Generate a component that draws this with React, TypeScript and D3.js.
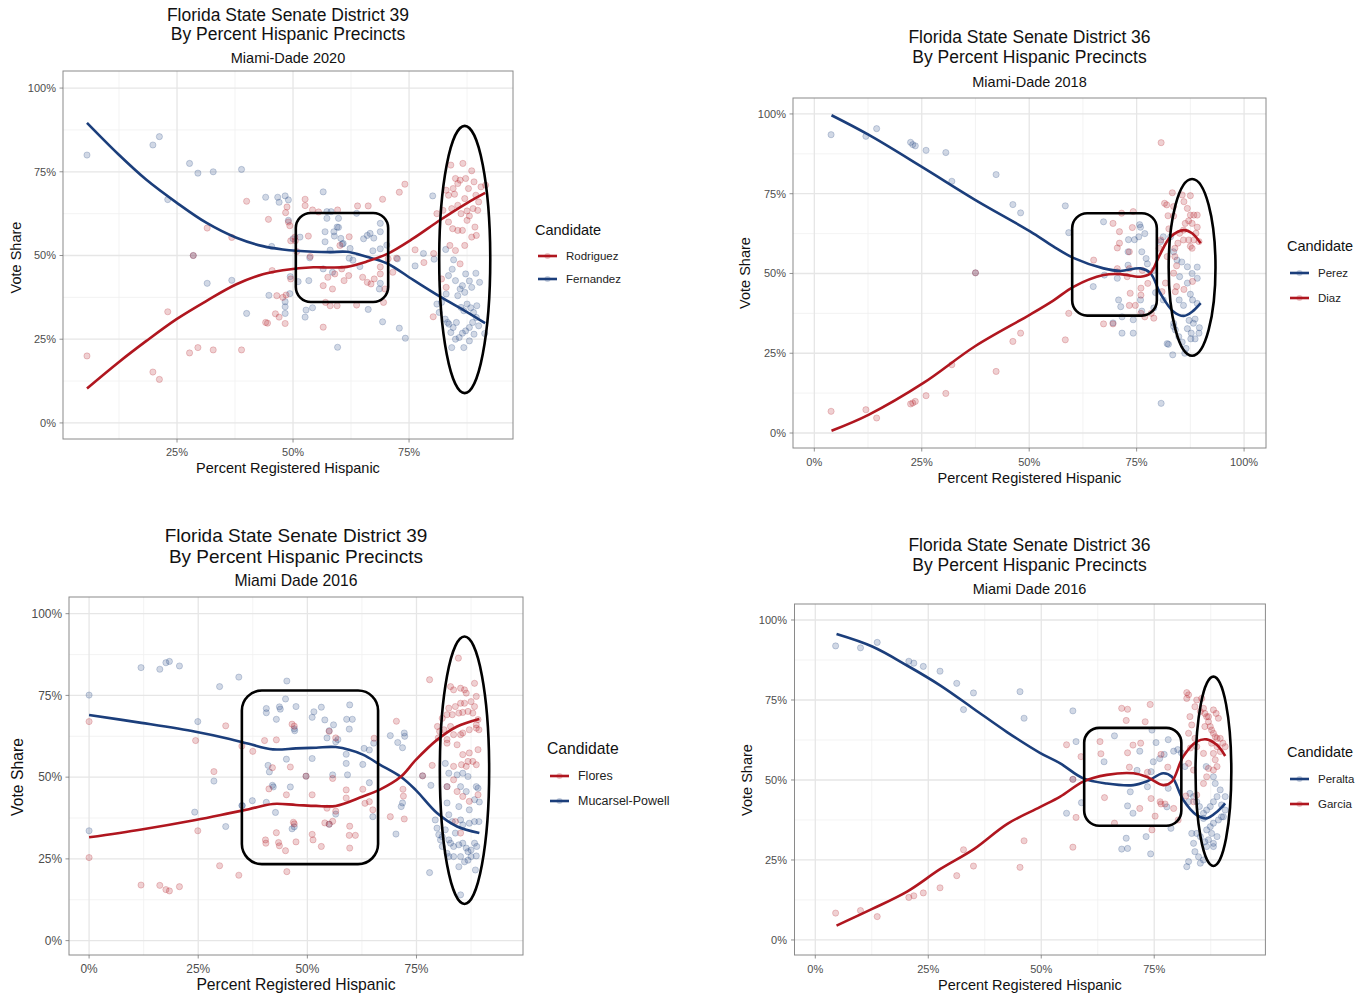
import React from 'react';
import * as d3 from 'd3';

type Pt = [number, number];

const BLUE = '#1b3e7b';
const RED = '#b0161f';
const FONT = '"Liberation Sans", Arial, Helvetica, sans-serif';

// ---------------- Panel 1: District 39, Miami-Dade 2020 ----------------
const p1XTicks = [25, 50, 75];
const p1XMinor = [12.5, 37.5, 62.5, 87.5];
const yTicks = [0, 25, 50, 75, 100];
const yMinor = [12.5, 37.5, 62.5, 87.5];
const p1Candidates = ['Rodriguez', 'Fernandez'];
const p1Blue: Pt[] = [
  [5.6,80],[19.8,83],[21.2,85.5],[23,66.7],[27.7,77.5],[29.5,74.6],[32.8,75],[38.9,75.7],[28.5,50],[31.5,41.7],[36.8,42.6],[40,32.7],
  [44.1,67.4],[46.7,67.4],[48.3,67.8],[47,65.9],[49,66.6],[45.4,52.7],[44.8,38.1],[48.3,36.2],[48.3,34.7],[48.3,32.7],[49.3,38.6],[49.4,43.7],[49,60.5],[50,55],
  [52.6,31.6],[52.8,33.7],[54.2,34.4],[53.4,42.5],[51.1,42.2],[53.6,49.3],[51.5,55.5],
  [56.5,69],[57.3,63.1],[58.2,63.1],[59.8,61.1],[57.3,61.1],[56.9,57.1],[58.8,57.1],[59.8,58.4],[60.3,55.1],[58.9,55.8],[60.8,53.6],[56.9,54.1],[58,51.6],[62.3,52.1],[63.7,62.6],[65.2,55],[66,56],[66.6,56.6],[67.4,55.2],[68.8,59.6],[68.8,57.1],[70.2,53.1],[68.8,52],[67.2,51.4],[64.4,46.7],[62.9,48.6],[68.8,41.7],[68.6,40],[62.1,49.2],[60.6,53.4],[59.5,58.5],[56.5,46],[58.5,45],
  [69.3,30.2],[72.9,28.3],[74.2,25.3],[59.6,22.6],[66.2,33.9],[72.5,49],
  [76.3,46.9],[78.1,50.6],[80.4,48.9],[80.1,67.8],[82.9,51.8],[84.6,48.7],[84.3,45.9],[83.5,44],[85,42.5],[86.5,41],[87.2,44.5],[88.5,40.5],[89.4,44.7],[88,42.4],[86,40],[85.5,38],[83,38.5],[82,36],[81.5,33],[82.8,31],[83.6,29.5],[84.5,28.5],[85.2,30],[86.2,34.5],[86.8,33.5],[87.5,35.5],[88.3,34.4],[88.9,33],[89.5,31.5],[88.7,30],[88,28.5],[87.2,27.5],[86.5,26.8],[85.8,25.5],[85,25],[84.2,22.5],[86.8,22.5],[88,24.5],[89,26.5],[90,29],[91.3,26.7],[89.6,35],[87,39],[83.3,30],[84,27],[81,35.5],[90.2,42]
];
const p1Red: Pt[] = [
  [5.6,20],[19.8,15.2],[21.2,13],[23,33.2],[27.7,20.9],[29.5,22.5],[32.8,21.8],[38.9,21.8],[31.5,58.2],[36.8,55.4],[40,66.2],[28.5,50],
  [44.1,30],[44.7,60.8],[48.4,62.8],[48.7,64.5],[49,60],[49.3,58.9],[49.5,54.4],[50.5,54.4],[50.8,51.2],[46.5,38],[47.8,37.5],[48.5,38.2],[46.2,32.6],[47,31.6],[48.3,29.7],[45.5,45.5],[44.5,29.8],[49.5,43],
  [52.6,66.8],[52.6,64.9],[54.2,63.6],[53.3,55.8],[50.4,55.5],[53.7,49.7],[55.5,63],[57.5,43.5],[56.5,41],[58.5,40],[57,36],[58,35],[59.5,35],[56.5,28.6],[59.6,63.6],[60.1,53],[62.1,55.6],[59,44.5],[60.5,46],[61,42.5],[63.7,35.2],[62,44],
  [63.9,64.8],[66.2,64.8],[69.3,66.8],[72.9,68.9],[74.1,71.3],[65,43.5],[66,42],[66.8,41.5],[67.5,43],[68.8,46.6],[68.8,44.5],[69.8,40],[69.5,36],[70.5,49],[72.3,49.2],[71.5,45],
  [76.3,51.7],[78.2,47.9],[80.3,50.6],[80.2,31.7],[81,62.5],[82.3,63.5],[83,69.5],[83.5,68],[84,77],[84.5,70],[85,73],[85.5,71.5],[86,72.5],[86.6,77.5],[87.2,73],[87.8,70],[88.5,75.3],[89,72],[89.4,68],[90,66],[89.8,63.5],[88.8,64],[87.5,63.3],[86.2,62.5],[85.5,65],[84.2,64],[83.5,60],[84.4,58],[85.5,57.5],[86.5,57.5],[87.5,60.5],[88,61.8],[89.2,58.5],[89.5,56],[88.5,55.5],[87,53],[85,51.5],[83.8,53],[86,47.5],[90.5,70.5],[91.5,71],[82,43],[83,40.5],[87,67],[84.8,68.3]
];
const p1BlueFit: Pt[] = [[5.6,89.6],[12.3,80.3],[18.4,72.6],[24.9,65.8],[31.3,59.8],[37.8,55.3],[43.5,52.8],[47.8,51.8],[54.4,51.1],[58,51],[61.6,51.1],[65.9,49.6],[70.2,47.7],[75.9,42.7],[81.7,37.7],[87.4,33.2],[91.4,29.8]];
const p1RedFit: Pt[] = [[5.6,10.3],[12.3,18],[18.4,24.5],[24.9,31],[31.3,36.4],[37.8,41.4],[43.5,44.4],[47.8,45.6],[54.4,46.5],[58,46.4],[61.6,46.6],[65.9,48.2],[70.2,50.4],[75.9,55.1],[81.7,60.6],[87.4,65.6],[91.4,68.7]];
const p1Box = [50.6, 70.5, 36.1, 62.7];
const p1Ellipse = [87, 48.8, 5.5, 39.9];

// ---------------- Panel 2: District 36, Miami-Dade 2018 ----------------
const p2XTicks = [0, 25, 50, 75, 100];
const p2Candidates = ['Perez', 'Diaz'];
const p2Blue: Pt[] = [
  [3.9,93.5],[12,93],[14.5,95.4],[22.4,91.1],[22.9,90.4],[23.5,90],[26,88.6],[30.6,87.9],[32,78.9],[42.3,81],[46.2,71.6],[48,69],[37.5,50.2],[58.4,71.2],[59.2,62.8],[64.9,45.9],
  [67.3,66.2],[75.7,65.3],[75.9,64.5],[75.5,61.5],[76.9,62.5],[73.1,60.6],[74.5,60.6],[73,56.8],[76.2,56.8],[77.2,54.7],[77.5,53],[79,51],[73,52.6],[70.5,48.5],[67.5,49.5],[70.8,41.7],[71.3,39.6],[71.6,36.4],[69.5,34.5],[71.6,31.3],[74.2,31.3],[74.2,35.5],[75.9,41.7],[76.2,38.2],[79,39.2],[79.4,44],[81.2,41.7],
  [81.2,61.5],[80.6,60],[82.9,61.5],[83.6,56.8],[84.4,54.2],[85.5,53.6],[85,49],[86.8,47],[86.8,52.1],[87.9,50],[89.1,52],[89.1,48.5],[87.5,43.5],[88,41.7],[89.1,40.6],[85.9,40],[84.9,41.7],[83.6,34.4],[83.6,33.4],[84,32.3],[84.8,30.2],[85.6,28.5],[86.5,26.5],[86.8,32.7],[87.7,31.3],[88.2,34.4],[88.6,35.7],[89.5,31.3],[87.2,35.3],[82.1,28],[82.4,27.8],[83.4,24.5],[86.2,25],[87.6,29.5],[88.6,29.5],[89.6,33],[80.7,9.3]
];
const p2Red: Pt[] = [
  [3.9,6.8],[12,7.3],[14.5,4.7],[22.4,9.1],[22.9,9.4],[23.5,9.9],[26,11.7],[30.6,12.4],[32,21.4],[42.3,19.3],[46.2,28.7],[48,31.3],[37.5,50.2],[58.4,29.2],[59.2,37.5],[80.7,91],
  [65,54.2],[69.5,65.7],[71.5,68.9],[74.2,69.4],[74,64.4],[71,63.1],[71,59.5],[70.5,58],[73.3,56.8],[70.5,51.5],[73.3,51.5],[72.8,49],[70.5,50.5],[76.3,51],[77.6,46.9],[76,45.4],[73.5,43.8],[76,43.2],[73.3,40],[74.7,40],[76,37.5],[76.9,36.4],[78.4,37.5],[79,36],[67.3,34.2],[69.5,34.2],
  [83.3,75.3],[81.5,72],[82,71.5],[82.3,68.1],[83.6,71],[83.6,68],[85.6,74.6],[87.5,74.4],[86,72.5],[86.8,70.4],[87.5,68.3],[88.3,68.3],[89.1,68.3],[87.9,65.7],[87.1,66.5],[86.3,65.7],[85.9,63.6],[85,62.6],[84.6,59.5],[83.9,57.9],[83.9,55.3],[84.3,52.4],[85.9,60.5],[87.1,60.5],[87.5,58.5],[87.9,57.9],[88.3,60.5],[89.5,60],[88.8,62.6],[89.1,64.5],[82.1,55.3],[83.6,50.1],[84.3,45.9],[84,44.3],[81.7,47],[80.9,44.3],[80.6,60.5],[80.2,57.9],[86,45],[88,47.5],[82.5,64]
];
const p2BlueFit: Pt[] = [[4,99.6],[12.6,93.5],[25.4,83.1],[37.4,73.1],[50.2,63.2],[55.6,58.5],[60.4,54.8],[67.3,51.6],[71.2,50.8],[75.9,51.6],[78.2,50.1],[80.5,43.8],[83.6,38],[86,36.7],[87.9,38],[89.9,40.7]];
const p2RedFit: Pt[] = [[4,0.7],[12.6,5.7],[25.4,15.7],[37.4,27.2],[50.2,37.1],[55.6,41.5],[60.4,45.9],[67.3,49.5],[71.2,49.8],[75.9,49],[78.2,50.1],[80.2,55.3],[82.9,61.5],[86,63.6],[87.9,62.6],[89.9,59.5]];
const p2Box = [60.0, 79.7, 36.8, 68.9];
const p2Ellipse = [87.9, 51.9, 5.45, 27.7];

// ---------------- Panel 3: District 39, Miami Dade 2016 ----------------
const p3XTicks = [0, 25, 50, 75];
const p3Candidates = ['Flores', 'Mucarsel-Powell'];
const p3Blue: Pt[] = [
  [0,75.1],[0,33.6],[11.9,83.5],[16.2,83],[17.6,85],[18.4,85.4],[20.7,84],[24.9,67],[28.6,48.8],[29.9,77.7],[31.3,34.9],[24.2,39.3],[34.3,80.6],[35,41.3],
  [45.3,79.4],[40.6,71],[40.6,69.7],[43.6,71.5],[43.8,70.8],[45,73.9],[47.4,71.6],[42.9,67.7],[47,64.8],[47.1,64.2],[51.1,68.3],[51.5,70],[53.2,71.4],[54,67.5],[55,64.2],[56,66],[54.5,62],[57,61.5],[56.5,60.8],[59.7,72.1],[59,67.7],[60.3,67.7],[59.6,64.7],[63,58.8],[64.2,58.3],[65.2,60.4],[58.9,57],[58.9,54.2],[51.1,55.7],[45.2,55.5],[41,53.6],[41.3,51.6],[42,47.5],[42.2,47],[46.1,47],[49.7,50.3],[55.8,50.7],[59.2,50.7],[62.7,53.9],[64.2,48.3],[37.4,42.8],[35.1,41.3],[40.6,42.3],[42.7,39.2],[46.5,34.2],[47,34.8],[56.5,38.7],[55,35.6],[65,37.9],[69,62.7],[72.2,63.5],[72.3,62.5],[70.7,60.6],[71.8,59],[71.8,42.1],[71.5,41],[70.3,32.6],[76.4,50.4],[78,20.8],[78.3,47.5],
  [81.6,54.2],[82.4,51.2],[82,47.1],[84.3,50.7],[85.6,51.2],[86.8,50.2],[88.7,47.1],[89.1,46.6],[88.3,43.1],[89.4,42.4],[86.4,45.6],[85.1,47.1],[82,42.1],[84.7,41],[87.1,40],[82.4,38.5],[83.2,36.4],[85.1,36.9],[85.6,35.4],[87.1,35.9],[88.3,36.4],[89.3,36.4],[79.3,36.9],[79.7,34.4],[80.1,32.4],[80.9,31.8],[82.4,30.8],[82.8,29.8],[83.5,28.8],[84.7,29.3],[85.6,29.8],[86.4,28.3],[86.8,27.2],[87.5,27.7],[88.3,29.8],[88.8,28.8],[82,26.7],[83.5,25.7],[85.1,25.7],[86,24.1],[86.8,24.6],[87.5,25.7],[88.7,25.9],[88.5,21.6],[84.7,22.6],[85.1,14],[82.4,25.7],[80.9,28.8],[80.5,30.8],[81.6,33.9],[83.9,32.9]
];
const p3Red: Pt[] = [
  [0,67],[0,25.4],[11.9,17],[16.2,16.9],[17.6,15.6],[18.4,15.2],[20.7,16.5],[24.4,61.2],[24.9,33.6],[28.6,51.7],[31.3,65.7],[29.9,22.9],[34.3,20],[35,59.5],
  [45.3,21.1],[40.4,30.8],[40.5,29.8],[43.4,30],[43.6,29],[45,27.5],[42.9,33],[47.4,30.2],[47,35.7],[46.8,36.2],[51.1,32.5],[51.3,30.8],[53.2,28.8],[54,36],[54.5,40.5],[55,35.6],[55.8,36.5],[56.5,39.6],[59.6,32.2],[61,32.2],[59.7,35],[59.7,28.3],[58.9,46.1],[58.9,43.6],[55.8,49.6],[51.1,44.6],[45.2,44.6],[46.1,53.1],[42,52.9],[41.2,46.4],[40.2,61.2],[37.5,57.9],[42.9,61.4],[46.5,66.2],[47,65.6],[55,64],[56.5,62],[62.7,46.3],[63.2,42],[64.2,42.5],[65.3,61.9],[65,40],[69,37.9],[72.2,37.2],[70.4,67.1],[71.9,46.3],[72,44.2],[76.4,50.4],[78,79.8],[78.6,53.6],[80,62],[80.3,64],[80.9,68],[79.8,65.5],[49.7,50.3],
  [84.6,86.4],[82.8,77.7],[83.5,76.7],[85.1,77.2],[86,76.7],[86.4,75.7],[88.3,78.7],[88.7,74.7],[87.5,73.1],[86,72.6],[85.1,72.6],[83.9,71.6],[82.4,71.1],[82,69.1],[83.2,69.1],[84.7,69.6],[85.6,69.8],[86.8,70.1],[88.3,71.6],[89.1,67.6],[88.7,65],[89.3,64.5],[87.1,64.5],[85.6,63.5],[85.1,63],[83.5,63],[82,60.4],[84.3,59.9],[85.6,56.9],[87.1,57.4],[89.1,58.4],[87.9,54.8],[88.7,53.8],[86.8,54.8],[86.4,53.3],[85.3,53.8],[83.5,53.3],[82,47.1],[83.5,49.2],[84.3,45.6],[85.6,44.1],[89.1,44.6],[87.1,42.6],[83.9,36.4],[85.1,32.9],[88.7,66],[87.9,69.6],[82.8,65.5],[81.3,64.5],[82,61.5]
];
const p3BlueFit: Pt[] = [[0,69],[12,66.6],[24.4,63.9],[32.2,61.7],[36.6,60.2],[42.1,58.5],[47.4,58.8],[52,59],[56.5,59.2],[62.7,56.9],[66.5,53.9],[71.4,50.1],[74.8,46.1],[79.7,39],[84.3,34.9],[89.4,32.9]];
const p3RedFit: Pt[] = [[0,31.6],[12,34],[24.4,36.9],[32.2,39],[36.6,40.2],[42.1,41.8],[47.4,41.5],[52,41.2],[56.5,41.2],[62.7,44.1],[66.5,46.1],[71.4,50.1],[74.8,55.2],[79.7,61.4],[84.3,65.5],[89.4,67.8]];
const p3Box = [35.0, 66.2, 23.4, 76.5];
const p3Ellipse = [86.0, 52.1, 5.65, 40.9];

// ---------------- Panel 4: District 36, Miami Dade 2016 ----------------
const p4XTicks = [0, 25, 50, 75];
const p4Candidates = ['Peralta', 'Garcia'];
const p4Blue: Pt[] = [
  [4.5,91.9],[10,91.3],[13.7,93],[20.7,87.1],[21.8,86.5],[23.9,85.5],[27.6,84],[31.3,80.2],[35,77.2],[32.8,72],[45.3,77.6],[46.2,69.3],
  [57,71.6],[57.7,62],[55.6,39.6],[58.9,42.9],[57,50.2],[63.9,55.7],[66.2,63.8],[69.7,46.3],[69.1,41.9],[70.3,39.6],[71.8,59],[71.2,53],[73.5,47.9],[74.5,65.6],[75.4,61.7],[74.8,55.7],[76.2,56.7],[77.2,58],[78.1,62.6],[79.3,59],[74.3,52.6],[78.1,47.4],[77.8,41.6],[78.7,34.9],[73.2,32.3],[68.8,31.8],[67.8,28.4],[69.1,28.6],[74.2,26.9],[80.2,59.5],[81,58.5],
  [81.8,54.2],[82.9,45.8],[82.6,43.2],[83.7,44.8],[84.4,43.2],[85,41.7],[85.9,39.6],[86.6,40.6],[87.4,41.7],[88.1,43.2],[88.9,44.8],[89.9,42.2],[90.7,44.8],[90.3,38.5],[89.2,37.5],[88.1,36.5],[87.4,35.4],[86.6,34.4],[87.7,33.3],[87,31.3],[88.1,30.2],[86.2,30.7],[85.2,32.3],[84.4,33.3],[83.3,33.3],[83.7,30.2],[84,27.6],[84.8,26],[85.9,25],[85.2,24],[82.6,24.5],[82.2,22.9],[88.1,29.2],[88.9,32.3],[89.9,38.5],[90.7,40.6],[86.6,29.2],[85.9,38],[89.6,46.9],[88.5,48.9],[88.1,51],[86.5,54.2]
];
const p4Red: Pt[] = [
  [4.5,8.4],[10,9.2],[13.7,7.3],[20.7,13.3],[21.8,13.8],[23.9,14.7],[27.6,16.3],[31.3,20.1],[35,23.1],[32.8,28.2],[45.3,22.7],[46.2,31],
  [55.6,61],[58.8,57.3],[57.7,38.3],[57,29],[57,50.2],[63.2,58.2],[64,44.5],[67.8,72.4],[69.1,72.1],[68.8,68.6],[69.5,54],[70.3,60.9],[69.1,58.5],[71.8,41.1],[66.2,36.5],[73,68.2],[74.1,73.6],[73.5,52.4],[74.3,44.2],[75.2,38.7],[74.5,34.4],[76.3,43.2],[76.5,42.5],[77.4,42.5],[79.3,41.1],[80.3,37.5],[72,61.5],[76.5,58],[78,54],[63,62],
  [82.2,77.3],[82.6,76.6],[82.2,75.5],[84,72.9],[84.4,75],[85.5,75.5],[85.2,71.4],[85.9,72.4],[86.2,70.8],[86.6,69.8],[87,68.2],[87.4,66.7],[87.7,65.6],[88.1,64.6],[88.5,63.5],[88.9,63],[89.6,63],[90.2,61.5],[90.7,60.4],[88.9,60.4],[88.1,58.3],[88.5,56.3],[88.9,54.2],[88.1,53.1],[87,53.6],[86.6,51],[85.9,48.9],[82.9,69.8],[83.3,67.2],[82.6,64.6],[85.9,58.3],[84.4,60.4],[82.6,55.2],[83.7,53.1],[84.4,45.3],[83.7,43.2],[86.2,66.7],[87,69.8],[88.1,71.9],[88.7,70.8],[89.2,69.3],[87.7,61.5],[89.6,58.9],[84,63],[83,60],[82,45]
];
const p4BlueFit: Pt[] = [[4.7,95.6],[12.6,91.7],[20.4,85.7],[27.7,79.5],[35.1,72.2],[42.5,64.9],[49.7,58.5],[54.2,55.2],[59.3,50.5],[64.5,48.9],[70.4,48.4],[73.3,49.5],[77,52.1],[78.9,51],[81.4,43.8],[84.4,39],[86.6,38],[88.9,40.1],[90.7,42.7]];
const p4RedFit: Pt[] = [[4.7,4.5],[12.6,9.7],[20.4,15.2],[27.7,22.2],[35.1,28.4],[42.5,36.3],[49.7,41.5],[54.2,44.8],[59.3,49.5],[64.5,51.6],[70.4,52.1],[73.3,51],[77,48.4],[78.9,49.5],[81.4,57.3],[84.4,62],[86.6,62.7],[88.9,60.9],[90.7,57.5]];
const p4Box = [59.5, 81.0, 35.7, 66.3];
const p4Ellipse = [88.1, 52.7, 3.96, 29.6];

interface Series { name: string; color: string; pts: Pt[]; fit: Pt[] }
interface PanelCfg {
  titles: [string, string, string];
  left: number; right: number; top: number; bottom: number;
  xDomain: [number, number]; yDomain: [number, number];
  xTicks: number[]; xMinor: number[];
  ts: number;
  titleX: number; titleY: [number, number, number];
  xTickY: number; yTickX: number; xTitleY: number; yTitleX: number; yTitleCY: number;
  legendX: number; legendTitleY: number; legendRows: [number, number];
  legend: Series[]; drawOrder: Series[];
  box: number[]; boxR: number; ellipse: number[];
}

const s = (name: string, color: string, pts: Pt[], fit: Pt[]): Series => ({ name, color, pts, fit });

const p1R = s(p1Candidates[0], RED, p1Red, p1RedFit);
const p1B = s(p1Candidates[1], BLUE, p1Blue, p1BlueFit);
const p2B = s(p2Candidates[0], BLUE, p2Blue, p2BlueFit);
const p2R = s(p2Candidates[1], RED, p2Red, p2RedFit);
const p3R = s(p3Candidates[0], RED, p3Red, p3RedFit);
const p3B = s(p3Candidates[1], BLUE, p3Blue, p3BlueFit);
const p4B = s(p4Candidates[0], BLUE, p4Blue, p4BlueFit);
const p4R = s(p4Candidates[1], RED, p4Red, p4RedFit);

const panels: PanelCfg[] = [
  {
    titles: ['Florida State Senate District 39', 'By Percent Hispanic Precincts', 'Miami-Dade 2020'],
    left: 63, right: 513, top: 71, bottom: 439,
    xDomain: [0.43, 97.4], yDomain: [-4.8, 105.1],
    xTicks: p1XTicks, xMinor: p1XMinor, ts: 1,
    titleX: 288, titleY: [20.7, 39.5, 62.5],
    xTickY: 455.5, yTickX: 56, xTitleY: 473, yTitleX: 20.5, yTitleCY: 257.5,
    legendX: 535, legendTitleY: 235, legendRows: [256, 279],
    legend: [p1R, p1B], drawOrder: [p1B, p1R],
    box: p1Box, boxR: 15, ellipse: p1Ellipse,
  },
  {
    titles: ['Florida State Senate District 36', 'By Percent Hispanic Precincts', 'Miami-Dade 2018'],
    left: 793, right: 1266, top: 98, bottom: 448,
    xDomain: [-4.96, 105.1], yDomain: [-4.7, 105],
    xTicks: p2XTicks, xMinor: p1XMinor, ts: 1,
    titleX: 1029.5, titleY: [42.5, 63, 86.5],
    xTickY: 466, yTickX: 786, xTitleY: 483, yTitleX: 750, yTitleCY: 273,
    legendX: 1287, legendTitleY: 251, legendRows: [273, 298],
    legend: [p2B, p2R], drawOrder: [p2B, p2R],
    box: p2Box, boxR: 15, ellipse: p2Ellipse,
  },
  {
    titles: ['Florida State Senate District 39', 'By Percent Hispanic Precincts', 'Miami Dade 2016'],
    left: 69, right: 523, top: 597, bottom: 955,
    xDomain: [-4.6, 99.4], yDomain: [-4.4, 105.1],
    xTicks: p3XTicks, xMinor: p1XMinor, ts: 1.085,
    titleX: 296, titleY: [542, 562.5, 586],
    xTickY: 972.5, yTickX: 62, xTitleY: 990, yTitleX: 23, yTitleCY: 777,
    legendX: 547, legendTitleY: 754, legendRows: [776, 801],
    legend: [p3R, p3B], drawOrder: [p3B, p3R],
    box: p3Box, boxR: 20, ellipse: p3Ellipse,
  },
  {
    titles: ['Florida State Senate District 36', 'By Percent Hispanic Precincts', 'Miami Dade 2016'],
    left: 794.5, right: 1265.4, top: 604, bottom: 955,
    xDomain: [-4.6, 99.6], yDomain: [-4.7, 105],
    xTicks: p4XTicks, xMinor: p1XMinor, ts: 1,
    titleX: 1029.5, titleY: [550.5, 570.5, 594],
    xTickY: 972.5, yTickX: 787, xTitleY: 990, yTitleX: 752, yTitleCY: 780,
    legendX: 1287, legendTitleY: 757, legendRows: [779, 804],
    legend: [p4B, p4R], drawOrder: [p4B, p4R],
    box: p4Box, boxR: 15, ellipse: p4Ellipse,
  },
];

function Panel({ c }: { c: PanelCfg }) {
  const x = d3.scaleLinear().domain(c.xDomain).range([c.left, c.right]);
  const y = d3.scaleLinear().domain(c.yDomain).range([c.bottom, c.top]);
  const line = d3.line<Pt>().x(d => x(d[0])).y(d => y(d[1])).curve(d3.curveCatmullRom.alpha(0.5));
  const pct = (v: number) => `${v}%`;
  const [bx0, bx1, by0, by1] = c.box;
  const [ecx, ecy, erx, ery] = c.ellipse;
  const ts = c.ts;
  return (
    <g>
      {/* titles */}
      <text x={c.titleX} y={c.titleY[0]} textAnchor="middle" fontSize={17.5 * ts} fill="#111">{c.titles[0]}</text>
      <text x={c.titleX} y={c.titleY[1]} textAnchor="middle" fontSize={17.5 * ts} fill="#111">{c.titles[1]}</text>
      <text x={c.titleX} y={c.titleY[2]} textAnchor="middle" fontSize={14.5 * ts} fill="#111">{c.titles[2]}</text>
      {/* grid */}
      <rect x={c.left} y={c.top} width={c.right - c.left} height={c.bottom - c.top} fill="#fff" />
      {c.xMinor.map(v => (
        <line key={'xm' + v} x1={x(v)} x2={x(v)} y1={c.top} y2={c.bottom} stroke="#f0f0f0" strokeWidth={0.8} />
      ))}
      {yMinor.map(v => (
        <line key={'ym' + v} x1={c.left} x2={c.right} y1={y(v)} y2={y(v)} stroke="#f0f0f0" strokeWidth={0.8} />
      ))}
      {c.xTicks.map(v => (
        <line key={'xg' + v} x1={x(v)} x2={x(v)} y1={c.top} y2={c.bottom} stroke="#e6e6e6" strokeWidth={1.3} />
      ))}
      {yTicks.map(v => (
        <line key={'yg' + v} x1={c.left} x2={c.right} y1={y(v)} y2={y(v)} stroke="#e6e6e6" strokeWidth={1.3} />
      ))}
      {/* points */}
      {c.drawOrder.map(sr => (
        <g key={'pts' + sr.name}>
          {sr.pts.map((p, i) => (
            <circle key={i} cx={x(p[0])} cy={y(p[1])} r={3.1} fill={sr.color} fillOpacity={0.2}
              stroke={sr.color} strokeOpacity={0.28} strokeWidth={0.8} />
          ))}
        </g>
      ))}
      {/* fits */}
      {c.drawOrder.map(sr => (
        <path key={'fit' + sr.name} d={line(sr.fit) || ''} fill="none" stroke={sr.color} strokeWidth={2.6} strokeLinecap="butt" />
      ))}
      {/* panel border */}
      <rect x={c.left} y={c.top} width={c.right - c.left} height={c.bottom - c.top} fill="none" stroke="#8a8a8a" strokeWidth={1} />
      {/* axes ticks */}
      {yTicks.map(v => (
        <g key={'yt' + v}>
          <line x1={c.left - 3.5} x2={c.left} y1={y(v)} y2={y(v)} stroke="#777" strokeWidth={0.8} />
          <text x={c.yTickX} y={y(v) + 3.8 * ts} textAnchor="end" fontSize={11 * ts} fill="#4d4d4d">{pct(v)}</text>
        </g>
      ))}
      {c.xTicks.map(v => (
        <g key={'xt' + v}>
          <line x1={x(v)} x2={x(v)} y1={c.bottom} y2={c.bottom + 3.5} stroke="#777" strokeWidth={0.8} />
          <text x={x(v)} y={c.xTickY} textAnchor="middle" fontSize={11 * ts} fill="#4d4d4d">{pct(v)}</text>
        </g>
      ))}
      <text x={(c.left + c.right) / 2} y={c.xTitleY} textAnchor="middle" fontSize={14.5 * ts} fill="#111">Percent Registered Hispanic</text>
      <text transform={`translate(${c.yTitleX},${c.yTitleCY}) rotate(-90)`} textAnchor="middle" fontSize={14.5 * ts} fill="#111">Vote Share</text>
      {/* annotations */}
      <rect x={x(bx0)} y={y(by1)} width={x(bx1) - x(bx0)} height={y(by0) - y(by1)} rx={c.boxR} ry={c.boxR}
        fill="none" stroke="#000" strokeWidth={2.6} />
      <ellipse cx={x(ecx)} cy={y(ecy)} rx={x(ecx + erx) - x(ecx)} ry={y(ecy - ery) - y(ecy)}
        fill="none" stroke="#000" strokeWidth={2.6} />
      {/* legend */}
      <text x={c.legendX} y={c.legendTitleY} fontSize={14.5 * ts} fill="#111">Candidate</text>
      {c.legend.map((sr, i) => (
        <g key={'lg' + sr.name}>
          <line x1={c.legendX + 3} x2={c.legendX + 22} y1={c.legendRows[i]} y2={c.legendRows[i]} stroke={sr.color} strokeWidth={2.6} />
          <circle cx={c.legendX + 12.5} cy={c.legendRows[i]} r={3} fill={sr.color} fillOpacity={0.25} />
          <text x={c.legendX + 31} y={c.legendRows[i] + 4} fontSize={11.5 * ts} fill="#222">{sr.name}</text>
        </g>
      ))}
    </g>
  );
}

export default function App() {
  return (
    <svg width={1365} height={995} viewBox="0 0 1365 995"
      style={{ position: 'absolute', left: 0, top: 0, display: 'block', background: '#fff' }}
      fontFamily={FONT}>
      <rect x={0} y={0} width={1365} height={995} fill="#fff" />
      {panels.map((c, i) => <Panel key={i} c={c} />)}
    </svg>
  );
}
